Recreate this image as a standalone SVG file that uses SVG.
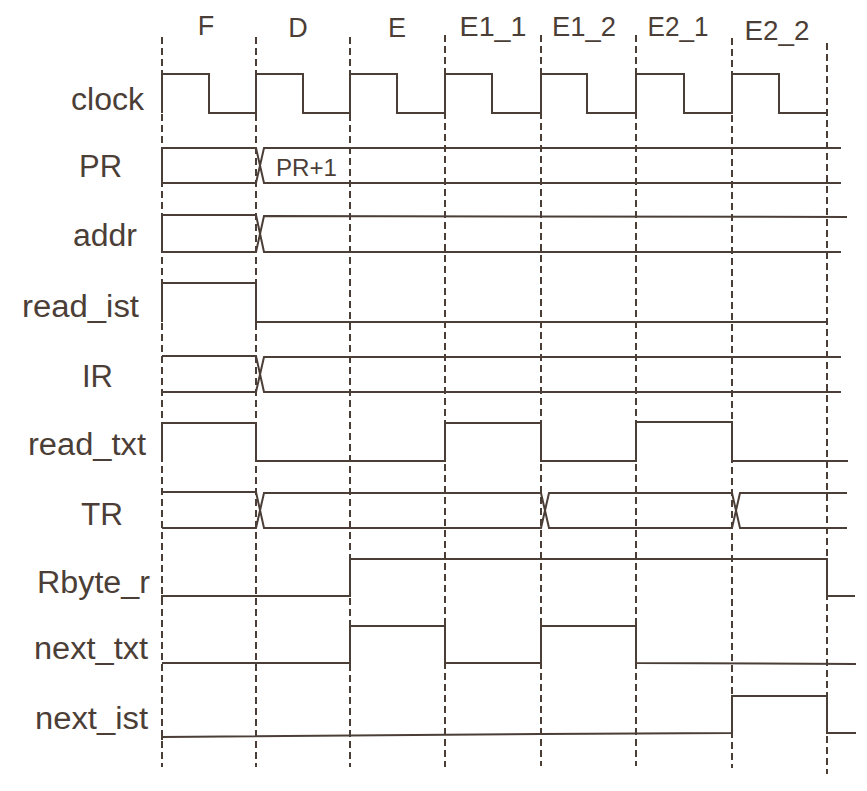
<svg xmlns="http://www.w3.org/2000/svg" width="867" height="791" viewBox="0 0 867 791">
<style>
text{font-family:"Liberation Sans",Arial,sans-serif;fill:#4b3e37}
.lbl{font-size:31px}
.top{font-size:27px;text-anchor:middle}
.sig{fill:none;stroke:#4b3e37;stroke-width:2;stroke-linejoin:miter}
.dash{stroke:#4b3e37;stroke-width:2;stroke-dasharray:7 4}
</style>
<rect width="867" height="791" fill="#fff"/>
<g id="connectors">
<line class="dash" x1="162" y1="37" x2="162" y2="767"/>
<line class="dash" x1="256" y1="37" x2="256" y2="767"/>
<line class="dash" x1="350" y1="37" x2="350" y2="767"/>
<line class="dash" x1="445" y1="35" x2="445" y2="767"/>
<line class="dash" x1="541" y1="35" x2="541" y2="766"/>
<line class="dash" x1="636" y1="35" x2="636" y2="766"/>
<line class="dash" x1="732" y1="38" x2="732" y2="768"/>
<line class="dash" x1="827" y1="43" x2="827" y2="774"/>
</g>
<g id="phases">
<text class="top" x="206" y="35">F</text>
<text class="top" x="298" y="37">D</text>
<text class="top" x="397" y="37">E</text>
<text class="top" x="493" y="36" textLength="67" lengthAdjust="spacingAndGlyphs">E1_1</text>
<text class="top" x="584" y="36" textLength="64" lengthAdjust="spacingAndGlyphs">E1_2</text>
<text class="top" x="678" y="36" textLength="61" lengthAdjust="spacingAndGlyphs">E2_1</text>
<text class="top" x="777" y="40" textLength="65" lengthAdjust="spacingAndGlyphs">E2_2</text>
</g>
<g id="clock">
<text class="lbl" x="71" y="110" textLength="73" lengthAdjust="spacingAndGlyphs">clock</text>
<polyline class="sig" points="162,113 162,74 209,74 209,113 256,113 256,74 303,74 303,113 350,113 350,74 397,74 397,113 445,113 445,74 492,74 492,113 541,113 541,74 587,74 587,113 636,113 636,74 684,74 684,113 732,113 732,74 779,74 779,113 827,113"/>
</g>
<g id="PR">
<text class="lbl" x="79" y="177" textLength="43" lengthAdjust="spacingAndGlyphs">PR</text>
<polyline class="sig" points="162,183 162,148 256,148 264,183 841,183"/>
<polyline class="sig" points="162,183 256,183 264,148 841,148"/>
<text x="276" y="176" style="font-size:24px" textLength="61" lengthAdjust="spacingAndGlyphs">PR+1</text>
</g>
<g id="addr">
<text class="lbl" x="73" y="246" textLength="64" lengthAdjust="spacingAndGlyphs">addr</text>
<polyline class="sig" points="162,252 162,215 256,215 264,252 841,252"/>
<polyline class="sig" points="162,252 256,252 264,216 847,217"/>
</g>
<g id="read_ist">
<text class="lbl" x="22" y="317" textLength="117" lengthAdjust="spacingAndGlyphs">read_ist</text>
<polyline class="sig" points="162,322 162,283 256,283 256,322 827,322"/>
</g>
<g id="IR">
<text class="lbl" x="82" y="387" textLength="31" lengthAdjust="spacingAndGlyphs">IR</text>
<polyline class="sig" points="162,356 256,356 264,392 841,392"/>
<polyline class="sig" points="162,392 256,392 264,357 841,357"/>
</g>
<g id="read_txt">
<text class="lbl" x="28" y="455" textLength="118" lengthAdjust="spacingAndGlyphs">read_txt</text>
<polyline class="sig" points="162,461 162,423 256,423 256,461 445,461 445,423 541,423 541,461 636,461 636,422 732,422 732,461 848,461"/>
</g>
<g id="TR">
<text class="lbl" x="81" y="525" textLength="42" lengthAdjust="spacingAndGlyphs">TR</text>
<polyline class="sig" points="162,492 256,492 264,528 541,528 549,493 732,493 740,528 847,528"/>
<polyline class="sig" points="162,528 256,528 264,493 541,493 549,528 732,528 740,493 847,493"/>
</g>
<g id="Rbyte_r">
<text class="lbl" x="37" y="593" textLength="113" lengthAdjust="spacingAndGlyphs">Rbyte_r</text>
<polyline class="sig" points="162,600 162,596 350,596 350,559 827,559 827,596 855,596"/>
</g>
<g id="next_txt">
<text class="lbl" x="34" y="659" textLength="114" lengthAdjust="spacingAndGlyphs">next_txt</text>
<polyline class="sig" points="162,663 350,663 350,626 445,626 445,663 541,663 541,626 636,626 636,663 856,664"/>
</g>
<g id="next_ist">
<text class="lbl" x="35" y="729" textLength="113" lengthAdjust="spacingAndGlyphs">next_ist</text>
<polyline class="sig" points="162,740 162,737 541,734 732,733 732,696 827,696 827,733 856,733"/>
</g>
</svg>
